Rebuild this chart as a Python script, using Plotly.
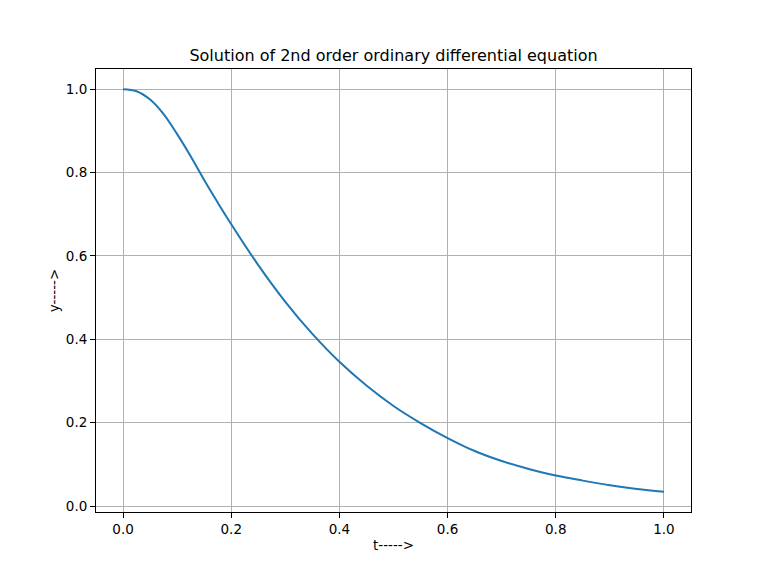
import plotly.graph_objects as go

t_vals = [0.0, 0.025, 0.05, 0.075, 0.1, 0.125, 0.15, 0.175, 0.2, 0.25, 0.3, 0.35, 0.4,
          0.45, 0.5, 0.55, 0.6, 0.65, 0.7, 0.75, 0.8, 0.85, 0.9, 0.95, 1.0]
y_vals = [1.0, 0.995, 0.975, 0.940, 0.892, 0.839, 0.782, 0.728, 0.676, 0.578, 0.490,
          0.413, 0.346, 0.289, 0.240, 0.199, 0.163, 0.132, 0.108, 0.089, 0.073, 0.061,
          0.050, 0.041, 0.034]
x_ticks = [0.0, 0.2, 0.4, 0.6, 0.8, 1.0]
y_ticks = [0.0, 0.2, 0.4, 0.6, 0.8, 1.0]

fig = go.Figure(go.Scatter(x=t_vals, y=y_vals, mode="lines",
                           line=dict(color="#1f77b4", width=2, shape="spline", smoothing=1.0)))

font = "DejaVu Sans"
axis_common = dict(showline=True, linecolor="black", linewidth=1, mirror=True,
                   showgrid=True, gridcolor="#b0b0b0", gridwidth=1,
                   ticks="outside", ticklen=5, tickwidth=1, tickcolor="black",
                   zeroline=False, tickfont=dict(family=font, size=13.5, color="black"))

# page body adds an 8px offset, so the figure is 8px smaller and margins shifted
W, H = 760, 568
fig.update_layout(
    width=W, height=H,
    margin=dict(l=88, r=77, t=61, b=64),
    paper_bgcolor="white", plot_bgcolor="white",
    showlegend=False,
    title=dict(text="Solution of 2nd order ordinary differential equation",
               font=dict(family=font, size=16, color="black"),
               x=0.5, xref="paper", xanchor="center",
               y=1 - 47 / H, yref="container", yanchor="middle"),
    xaxis=dict(range=[-0.05, 1.05], tickvals=x_ticks,
               ticktext=[f"{v:.1f}" for v in x_ticks],
               title=dict(text="t----->", font=dict(family=font, size=13.5, color="black"), standoff=4),
               **axis_common),
    yaxis=dict(range=[-0.0143, 1.0483], tickvals=y_ticks,
               ticktext=[f"{v:.1f}" for v in y_ticks],
               title=dict(text="y----->", font=dict(family=font, size=13.5, color="black"), standoff=3),
               **axis_common),
)

fig.write_html("out.html")
